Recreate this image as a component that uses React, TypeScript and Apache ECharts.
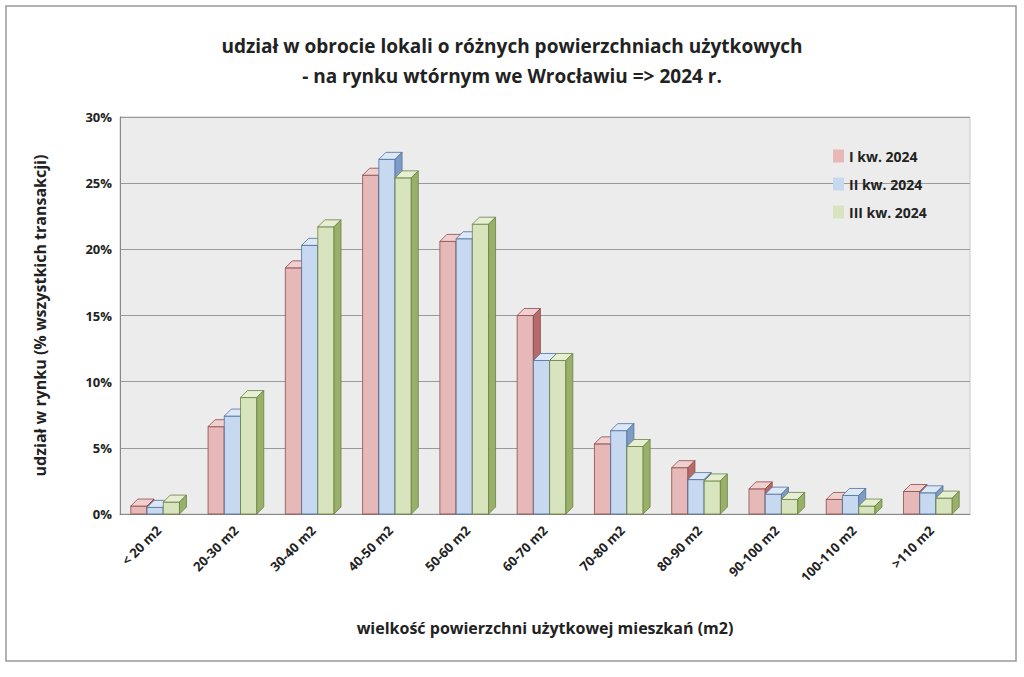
import React, { useRef, useEffect } from 'react';
import * as echarts from 'echarts';

const categories = ['< 20 m2', '20-30 m2', '30-40 m2', '40-50 m2', '50-60 m2', '60-70 m2', '70-80 m2', '80-90 m2', '90-100 m2', '100-110 m2', '>110 m2'];
const q1 = [0.6, 6.6, 18.6, 25.6, 20.6, 15.0, 5.3, 3.5, 1.9, 1.1, 1.7];
const q2 = [0.5, 7.4, 20.3, 26.8, 20.8, 11.6, 6.3, 2.6, 1.5, 1.4, 1.6];
const q3 = [0.9, 8.8, 21.7, 25.4, 21.9, 11.6, 5.1, 2.5, 1.1, 0.6, 1.2];

const seriesDefs = [
  { name: 'I kw. 2024', data: q1, face: '#e6b9b8', top: '#f0d0cf', side: '#b56b69', border: '#8c4a48' },
  { name: 'II kw. 2024', data: q2, face: '#c6d9f1', top: '#dde8f7', side: '#7f9cc4', border: '#4f6f9e' },
  { name: 'III kw. 2024', data: q3, face: '#d7e4bd', top: '#e6efd4', side: '#98b069', border: '#6b8240' },
];

const DEPTH = 7;

const App: React.FC = () => {
  const ref = useRef<HTMLDivElement>(null);

  useEffect(() => {
    document.body.style.margin = '0';
    if (!ref.current) return;
    const chart = echarts.init(ref.current, null, { renderer: 'svg' });

    const series = seriesDefs.map((d, si) => ({
      name: d.name,
      type: 'custom',
      data: d.data.map((v, i) => [i, v]),
      itemStyle: { color: d.face, borderColor: d.border },
      renderItem: (params: any, api: any) => {
        const i = api.value(0);
        const v = api.value(1);
        const base = api.coord([i, 0]);
        const topPt = api.coord([i, v]);
        const band = api.size([1, 0])[0];
        const bw = band * 0.21;
        const x0 = base[0] - bw * 1.5 + si * bw - DEPTH / 2;
        const x1 = x0 + bw;
        const y0 = base[1];
        const y1 = topPt[1];
        const st = { stroke: d.border, lineWidth: 0.8 };
        return {
          type: 'group',
          children: [
            { type: 'rect', shape: { x: x0, y: y1, width: bw, height: y0 - y1 }, style: { fill: d.face, ...st } },
            { type: 'polygon', shape: { points: [[x0, y1], [x1, y1], [x1 + DEPTH, y1 - DEPTH], [x0 + DEPTH, y1 - DEPTH]] }, style: { fill: d.top, ...st } },
            { type: 'polygon', shape: { points: [[x1, y1], [x1 + DEPTH, y1 - DEPTH], [x1 + DEPTH, y0 - DEPTH], [x1, y0]] }, style: { fill: d.side, ...st } },
          ],
        };
      },
    }));

    chart.setOption({
      animation: false,
      backgroundColor: '#ffffff',
      textStyle: { fontFamily: 'Open Sans' },
      title: {
        text: 'udział w obrocie lokali o różnych powierzchniach użytkowych\n- na rynku wtórnym we Wrocławiu => 2024 r.',
        left: 'center',
        top: 26,
        textStyle: { fontSize: 19, fontWeight: 'bold', color: '#222', lineHeight: 30 },
      },
      legend: {
        orient: 'vertical',
        left: 828,
        top: 144,
        itemGap: 14,
        itemWidth: 11,
        itemHeight: 13,
        icon: 'rect',
        textStyle: { fontSize: 14, fontWeight: 'bold', color: '#222' },
        data: seriesDefs.map((d) => d.name),
      },
      grid: {
        left: 120,
        right: 54,
        top: 117,
        bottom: 163,
        show: true,
        backgroundColor: '#ececec',
        borderColor: '#c8c8c8',
      },
      xAxis: {
        type: 'category',
        data: categories,
        axisTick: { show: false },
        axisLine: { lineStyle: { color: '#888' } },
        axisLabel: { rotate: 45, fontSize: 13, fontWeight: 'bold', color: '#222', margin: 14 },
        name: 'wielkość powierzchni użytkowej mieszkań (m2)',
        nameLocation: 'middle',
        nameGap: 106,
        nameTextStyle: { fontSize: 16, fontWeight: 'bold', color: '#222' },
      },
      yAxis: {
        type: 'value',
        min: 0,
        max: 30,
        interval: 5,
        axisLine: { show: true, lineStyle: { color: '#888' } },
        axisLabel: { formatter: '{value}%', fontSize: 13, fontWeight: 'bold', color: '#222' },
        splitLine: { lineStyle: { color: '#9a9a9a' } },
        name: 'udział w rynku (% wszystkich transakcji)',
        nameLocation: 'middle',
        nameGap: 72,
        nameTextStyle: { fontSize: 16, fontWeight: 'bold', color: '#222' },
      },
      graphic: [
        { type: 'rect', shape: { x: 6, y: 6, width: 1010, height: 655 }, style: { fill: 'none', stroke: '#999', lineWidth: 1.5 }, silent: true },
      ],
      series,
    });

    return () => chart.dispose();
  }, []);

  return <div ref={ref} style={{ width: 1024, height: 677 }} />;
};

export default App;
